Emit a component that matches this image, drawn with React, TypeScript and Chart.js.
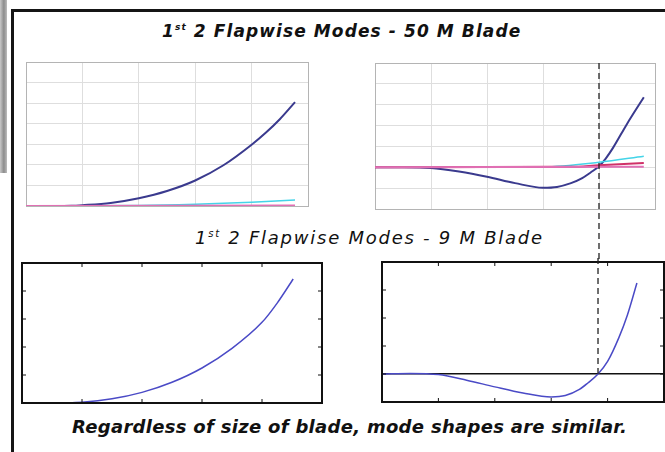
import { useEffect, useRef } from 'react';
import { Chart, registerables } from 'chart.js';

Chart.register(...registerables);

// ---------- data ----------
const X_MIN = 0;
const X_MAX = 50;
const X_STEP = 10;

// 50 M blade, mode 1
const big1X = [0, 5, 8, 10, 15, 20, 25, 30, 35, 40, 42.5, 45, 47.7];
const big1Y = [0, 0, 0.01, 0.04, 0.15, 0.38, 0.73, 1.24, 1.98, 2.98, 3.56, 4.22, 5.05];
const big1CyanX = [0, 20, 30, 40, 47.7];
const big1CyanY = [0, 0.02, 0.08, 0.18, 0.29];
const big1PinkX = [0, 47.7];
const big1PinkY = [0, 0.02];

// 50 M blade, mode 2
const big2X = [0, 5, 10, 15, 20, 25, 30, 32.5, 35, 37, 38.5, 40, 41.2, 42.5, 45, 48];
const big2Y = [0, 0, -0.03, -0.2, -0.45, -0.76, -0.98, -0.94, -0.76, -0.52, -0.25, 0.05, 0.42, 0.93, 2.08, 3.36];
const big2CyanX = [0, 30, 40, 48];
const big2CyanY = [0, 0.02, 0.24, 0.53];
const big2RedX = [0, 35, 40, 48];
const big2RedY = [0, 0.02, 0.1, 0.2];
const big2PinkX = [0, 48];
const big2PinkY = [0, 0.02];

// 9 M blade, mode 1
const small1X = [0, 5, 10, 15, 20, 25, 30, 35, 40, 42.5, 45.2];
const small1Y = [0, 0, 0.03, 0.15, 0.38, 0.74, 1.25, 1.95, 2.88, 3.56, 4.43];

// 9 M blade, mode 2
const small2X = [0, 5, 10, 15, 20, 25, 30, 32.5, 35, 36.5, 38.3, 40, 42, 43.5, 45.2];
const small2Y = [0, 0.02, -0.02, -0.22, -0.46, -0.68, -0.82, -0.77, -0.55, -0.32, 0, 0.45, 1.3, 2.1, 3.25];

// node line marker (where mode 2 crosses zero)
const NODE_X_50M = 40;
const NODE_X_9M = 38.3;

// ---------- plugins ----------
const framePlugin = {
  id: 'frameTicks',
  afterDraw(chart: any, _args: any, opts: any) {
    if (!opts || !opts.enabled) return;
    const { ctx, chartArea: a, scales } = chart;
    const x = scales.x;
    const y = scales.y;
    ctx.save();
    ctx.strokeStyle = '#111';
    ctx.lineWidth = 2;
    ctx.strokeRect(a.left, a.top, a.right - a.left, a.bottom - a.top);
    ctx.lineWidth = 1;
    const L = 4;
    ctx.beginPath();
    x.ticks.forEach((t: any) => {
      const px = x.getPixelForValue(t.value);
      ctx.moveTo(px, a.top);
      ctx.lineTo(px, a.top + L);
      ctx.moveTo(px, a.bottom);
      ctx.lineTo(px, a.bottom - L);
    });
    y.ticks.forEach((t: any) => {
      const py = y.getPixelForValue(t.value);
      ctx.moveTo(a.left, py);
      ctx.lineTo(a.left + L, py);
      ctx.moveTo(a.right, py);
      ctx.lineTo(a.right - L, py);
    });
    ctx.stroke();
    ctx.restore();
  },
};

const dashPlugin = {
  id: 'nodeDash',
  afterDraw(chart: any, _args: any, opts: any) {
    if (!opts || opts.x == null) return;
    const { ctx, chartArea: a, scales } = chart;
    const px = scales.x.getPixelForValue(opts.x);
    const y0 = opts.fromPlotTop ? a.top : 0;
    const y1 = opts.toZero ? scales.y.getPixelForValue(0) : chart.height;
    ctx.save();
    ctx.strokeStyle = '#222';
    ctx.lineWidth = 1.3;
    ctx.setLineDash([6, 4]);
    ctx.beginPath();
    ctx.moveTo(px, y0);
    ctx.lineTo(px, y1);
    ctx.stroke();
    ctx.restore();
  },
};

type Series = { xs: number[]; ys: number[]; color: string; width: number };

type PanelProps = {
  plot: { l: number; t: number; r: number; b: number };
  pad: { l: number; t: number; r: number; b: number };
  yMin: number;
  yMax: number;
  series: Series[];
  framed: boolean;
  zeroLine?: boolean;
  dash?: { x: number; fromPlotTop: boolean; toZero: boolean };
};

function Panel(p: PanelProps) {
  const ref = useRef<HTMLCanvasElement | null>(null);
  const w = p.plot.r - p.plot.l + p.pad.l + p.pad.r;
  const h = p.plot.b - p.plot.t + p.pad.t + p.pad.b;

  useEffect(() => {
    if (!ref.current) return;
    const gridColor = (max: number, min: number) => (c: any) => {
      const v = c.tick ? c.tick.value : null;
      if (v === max || v === min) return '#b4b4b4';
      return '#dedede';
    };
    const chart = new Chart(ref.current, {
      type: 'line',
      data: {
        datasets: p.series.map((s) => ({
          data: s.xs.map((x, i) => ({ x, y: s.ys[i] })),
          borderColor: s.color,
          borderWidth: s.width,
          pointRadius: 0,
          fill: false,
          cubicInterpolationMode: 'monotone' as const,
        })),
      },
      options: {
        animation: false,
        responsive: false,
        devicePixelRatio: 1,
        layout: { padding: { left: p.pad.l, top: p.pad.t, right: p.pad.r, bottom: p.pad.b } },
        plugins: {
          legend: { display: false },
          tooltip: { enabled: false },
          frameTicks: { enabled: p.framed },
          nodeDash: p.dash ? p.dash : { x: null },
        } as any,
        scales: {
          x: {
            type: 'linear',
            min: X_MIN,
            max: X_MAX,
            ticks: { display: false, stepSize: X_STEP },
            grid: p.framed
              ? { display: false, drawTicks: false }
              : { display: true, drawTicks: false, color: gridColor(X_MAX, X_MIN), lineWidth: 1 },
            border: { display: !p.framed, color: '#b4b4b4', width: 1 },
          },
          y: {
            type: 'linear',
            min: p.yMin,
            max: p.yMax,
            ticks: { display: false, stepSize: 1 },
            grid: p.framed
              ? {
                  display: !!p.zeroLine,
                  drawTicks: false,
                  color: (c: any) => (c.tick && c.tick.value === 0 ? '#111' : 'rgba(0,0,0,0)'),
                  lineWidth: 1.5,
                }
              : { display: true, drawTicks: false, color: gridColor(p.yMax, p.yMin), lineWidth: 1 },
            border: { display: !p.framed, color: '#b4b4b4', width: 1 },
          },
        },
      },
      plugins: [framePlugin, dashPlugin],
    });
    return () => chart.destroy();
  }, []);

  return (
    <canvas
      ref={ref}
      width={w}
      height={h}
      style={{
        position: 'absolute',
        left: p.plot.l - p.pad.l,
        top: p.plot.t - p.pad.t,
        width: w,
        height: h,
      }}
    />
  );
}

const FONT = '"DejaVu Sans", sans-serif';

export default function App() {
  useEffect(() => {
    document.body.style.margin = '0';
    document.body.style.overflow = 'hidden';
  }, []);

  return (
    <div
      style={{
        position: 'relative',
        width: 665,
        height: 452,
        overflow: 'hidden',
        background: '#fff',
        fontFamily: FONT,
      }}
    >
      {/* left gray strip */}
      <div
        style={{
          position: 'absolute',
          left: 0,
          top: 0,
          width: 7,
          height: 173,
          background: 'linear-gradient(to right, #c9c9c9 0%, #8c8c8c 55%, #bdbdbd 100%)',
        }}
      />
      {/* slide frame */}
      <div
        style={{
          position: 'absolute',
          left: 11,
          top: 9,
          width: 700,
          height: 500,
          borderTop: '3px solid #151515',
          borderLeft: '3px solid #151515',
        }}
      />

      <div
        style={{
          position: 'absolute',
          left: 162,
          top: 21,
          fontSize: 17,
          fontWeight: 'bold',
          fontStyle: 'italic',
          letterSpacing: 1.1,
          whiteSpace: 'nowrap',
          color: '#111',
        }}
      >
        1<sup style={{ fontSize: 9 }}>st</sup> 2 Flapwise Modes - 50 M Blade
      </div>

      <div
        style={{
          position: 'absolute',
          left: 195,
          top: 227,
          fontSize: 18,
          fontWeight: 'normal',
          fontStyle: 'italic',
          letterSpacing: 1.75,
          whiteSpace: 'nowrap',
          color: '#111',
        }}
      >
        1<sup style={{ fontSize: 10 }}>st</sup> 2 Flapwise Modes - 9 M Blade
      </div>

      <div
        style={{
          position: 'absolute',
          left: 72,
          top: 416,
          fontSize: 18,
          fontWeight: 'bold',
          fontStyle: 'italic',
          letterSpacing: 0.3,
          whiteSpace: 'nowrap',
          color: '#111',
        }}
      >
        Regardless of size of blade, mode shapes are similar.
      </div>

      <Panel
        plot={{ l: 26, t: 62, r: 308, b: 206 }}
        pad={{ l: 4, t: 4, r: 4, b: 4 }}
        yMin={0}
        yMax={7}
        framed={false}
        series={[
          { xs: big1PinkX, ys: big1PinkY, color: '#e070b4', width: 2 },
          { xs: big1CyanX, ys: big1CyanY, color: '#44d4e8', width: 1.5 },
          { xs: big1X, ys: big1Y, color: '#3a3a8e', width: 2 },
        ]}
      />
      <Panel
        plot={{ l: 375, t: 63, r: 655, b: 209 }}
        pad={{ l: 4, t: 4, r: 4, b: 53 }}
        yMin={-2}
        yMax={5}
        framed={false}
        dash={{ x: NODE_X_50M, fromPlotTop: true, toZero: false }}
        series={[
          { xs: big2PinkX, ys: big2PinkY, color: '#e070b4', width: 2 },
          { xs: big2RedX, ys: big2RedY, color: '#d03068', width: 2 },
          { xs: big2CyanX, ys: big2CyanY, color: '#44d4e8', width: 1.5 },
          { xs: big2X, ys: big2Y, color: '#3a3a8e', width: 2 },
        ]}
      />
      <Panel
        plot={{ l: 22, t: 263, r: 322, b: 403 }}
        pad={{ l: 4, t: 4, r: 4, b: 4 }}
        yMin={0}
        yMax={5}
        framed={true}
        series={[{ xs: small1X, ys: small1Y, color: '#4a4ac6', width: 1.5 }]}
      />
      <Panel
        plot={{ l: 382, t: 262, r: 664, b: 402 }}
        pad={{ l: 4, t: 4, r: 4, b: 4 }}
        yMin={-1}
        yMax={4}
        framed={true}
        zeroLine={true}
        dash={{ x: NODE_X_9M, fromPlotTop: false, toZero: true }}
        series={[{ xs: small2X, ys: small2Y, color: '#4a4ac6', width: 1.5 }]}
      />
    </div>
  );
}
